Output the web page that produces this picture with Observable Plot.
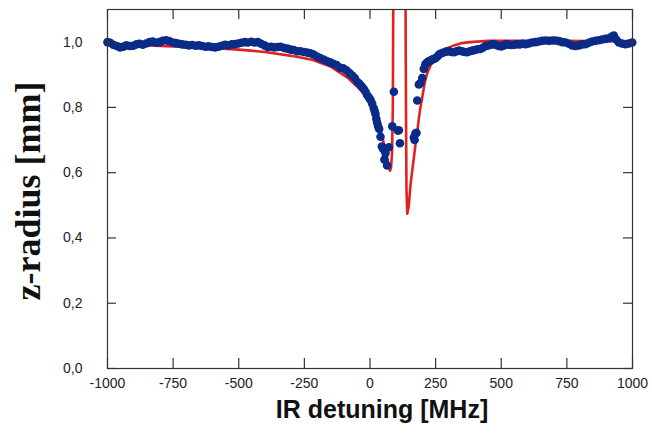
<!DOCTYPE html>
<html>
<head>
<meta charset="utf-8">
<script src="https://cdn.jsdelivr.net/npm/d3@7"></script>
<script src="https://cdn.jsdelivr.net/npm/@observablehq/plot@0.6"></script>
<style>
  html, body { margin: 0; padding: 0; background: #fff; }
</style>
</head>
<body>
<div id="chart"></div>
<script>
// Tick values
const xTicks = [-1000, -750, -500, -250, 0, 250, 500, 750, 1000];
const yTicks = [0, 0.2, 0.4, 0.6, 0.8, 1.0];

// Measured data (blue dots): IR detuning [MHz], z-radius [mm]
const dataX = [-1000,-990,-978,-965,-952,-940,-928,-915,-902,-890,-878,-866,-853,-840,-828,-815,-802,-790,-777,-765,-752,-740,-727,-715,-702,-690,-677,-665,-652,-640,-627,-615,-602,-590,-577,-565,-552,-540,-527,-515,-502,-490,-477,-465,-452,-440,-427,-415,-402,-390,-377,-365,-352,-340,-327,-315,-302,-290,-277,-265,-252,-240,-227,-215,-202,-190,-177,-165,-152,-140,-127,-115,-102,-90,-78,-68,-58,-48,-40,-32,-24,-17,-11,-4,2,8,14,18,21,24,27,31,35,40,45,50,55,59,65,72,85,91,106,110,114,167,170,173,177,180,186,192,199,205,211,218,225,232,240,248,256,263,270,280,290,300,310,320,330,340,350,360,370,380,390,400,410,420,430,440,450,460,470,480,490,500,510,520,530,540,550,560,570,580,592,605,617,630,643,656,669,682,695,707,720,733,745,758,770,783,796,808,821,834,846,859,872,884,897,910,920,929,938,948,960,973,986,999];
const dataY = [1.0,0.998,0.992,0.988,0.984,0.986,0.99,0.988,0.989,0.993,0.995,0.992,0.996,1.0,1.002,0.998,1.0,1.004,1.006,1.003,0.999,0.997,0.995,0.993,0.992,0.99,0.991,0.989,0.99,0.988,0.986,0.987,0.985,0.984,0.986,0.989,0.992,0.99,0.993,0.994,0.996,0.998,1.0,0.999,1.001,0.999,1.0,0.995,0.99,0.985,0.986,0.984,0.985,0.986,0.982,0.98,0.977,0.976,0.972,0.972,0.97,0.968,0.966,0.962,0.956,0.951,0.947,0.942,0.938,0.934,0.93,0.922,0.92,0.914,0.905,0.898,0.89,0.878,0.872,0.865,0.857,0.848,0.838,0.83,0.823,0.812,0.798,0.788,0.78,0.765,0.754,0.742,0.734,0.71,0.68,0.673,0.64,0.66,0.622,0.678,0.742,0.848,0.729,0.73,0.69,0.708,0.7,0.72,0.722,0.821,0.87,0.875,0.89,0.918,0.932,0.938,0.942,0.944,0.948,0.95,0.955,0.962,0.965,0.968,0.971,0.972,0.97,0.969,0.972,0.974,0.972,0.97,0.969,0.972,0.974,0.976,0.978,0.979,0.983,0.988,0.99,0.992,0.994,0.991,0.988,0.987,0.99,0.994,0.992,0.991,0.992,0.994,0.993,0.995,0.994,0.996,0.999,1.0,1.002,1.004,1.005,1.004,1.005,1.005,1.003,1.0,0.999,0.995,0.99,0.988,0.99,0.993,0.994,0.998,1.002,1.004,1.006,1.008,1.01,1.012,1.016,1.02,1.008,0.999,0.996,0.994,0.996,0.999];

// Fit curve (red line)
const fitX = [-1000,-900,-800,-700,-600,-500,-400,-300,-220,-150,-87,-50,-11,10,27,40,53,65,72,76,80,84,87,89,91,133,135,137,139,142,148,154,160,167,173,180,186,192,199,205,211,218,230,243,256,269,290,320,350,380,450,550,700,850,1000];
const fitY = [0.996,0.992,0.988,0.985,0.982,0.977,0.97,0.958,0.946,0.925,0.892,0.865,0.831,0.81,0.77,0.735,0.688,0.645,0.618,0.606,0.615,0.66,0.8,1.2,1.6,1.6,1.2,0.8,0.55,0.474,0.5,0.56,0.6,0.645,0.685,0.725,0.765,0.8,0.83,0.86,0.885,0.905,0.928,0.945,0.958,0.968,0.98,0.99,0.997,1.0,1.004,1.004,1.004,1.003,1.002];

const dots = dataX.map((x, i) => ({x, y: dataY[i]}));
const fit = fitX.map((x, i) => ({x, y: fitY[i]}));

const BLUE = "#0b2b88";
const RED = "#e2221f";
const AXIS = "#333";
const frameW = 652 - 107 - 20;
const frameH = 433 - 9 - 65;

const chart = Plot.plot({
  width: 652,
  height: 433,
  marginLeft: 107,
  marginRight: 20,
  marginTop: 9,
  marginBottom: 65,
  x: {domain: [-1000, 1000]},
  y: {domain: [0, 1.1]},
  style: {fontFamily: "'Liberation Sans', Arial, sans-serif", fontSize: "14px", color: "#222", background: "#fff"},
  marks: [
    Plot.line(fit, {x: "x", y: "y", stroke: RED, strokeWidth: 2.6, clip: true}),
    Plot.dot(dots, {x: "x", y: "y", r: 4.3, fill: BLUE, stroke: "none"}),
    Plot.frame({stroke: AXIS, strokeWidth: 1.2}),
    // inward tick marks on all four sides
    Plot.ruleX(xTicks, {x: d => d, insetTop: frameH - 10, stroke: AXIS, strokeWidth: 1.2}),
    Plot.ruleX(xTicks, {x: d => d, insetBottom: frameH - 10, stroke: AXIS, strokeWidth: 1.2}),
    Plot.ruleY(yTicks, {y: d => d, insetRight: frameW - 9, stroke: AXIS, strokeWidth: 1.2}),
    Plot.ruleY(yTicks, {y: d => d, insetLeft: frameW - 9, stroke: AXIS, strokeWidth: 1.2}),
    Plot.axisX(xTicks, {tickSize: 0, tickPadding: 10, label: null, fontSize: 14, tickFormat: d => String(d)}),
    Plot.axisY(yTicks, {tickSize: 0, tickPadding: 25, label: null, fontSize: 14, tickFormat: d => d.toFixed(1).replace(".", ",")}),
    Plot.text(["IR detuning [MHz]"], {text: d => d, frameAnchor: "bottom", dx: 12, dy: 49, fontSize: 25, fontWeight: "bold", fill: "#111", fontFamily: "'Liberation Sans', Arial, sans-serif"}),
    Plot.text(["z-radius [mm]"], {text: d => d, frameAnchor: "left", textAnchor: "middle", dx: -79, dy: 2, rotate: -90, fontSize: 36, fontWeight: "bold", fill: "#111", fontFamily: "'Liberation Serif', 'Times New Roman', serif"})
  ]
});
document.getElementById("chart").appendChild(chart);
</script>
</body>
</html>
